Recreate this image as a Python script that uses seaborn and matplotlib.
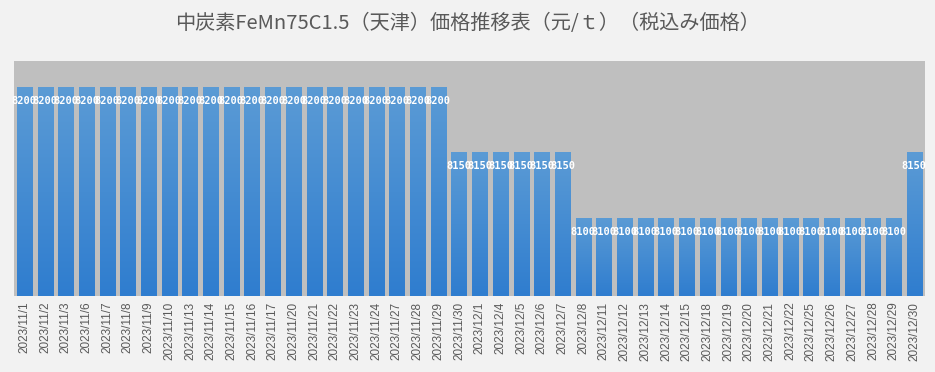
"""中炭素FeMn75C1.5（天津）価格推移表 — Excel風の棒グラフを再現。"""

import matplotlib

matplotlib.use("Agg")

import matplotlib.pyplot as plt
import numpy as np
import pandas as pd
import seaborn as sns
from matplotlib.colors import LinearSegmentedColormap

# ---------------------------------------------------------------------------
# データ
# ---------------------------------------------------------------------------
日付 = [
    "2023/11/1", "2023/11/2", "2023/11/3", "2023/11/6", "2023/11/7",
    "2023/11/8", "2023/11/9", "2023/11/10", "2023/11/13", "2023/11/14",
    "2023/11/15", "2023/11/16", "2023/11/17", "2023/11/20", "2023/11/21",
    "2023/11/22", "2023/11/23", "2023/11/24", "2023/11/27", "2023/11/28",
    "2023/11/29", "2023/11/30", "2023/12/1", "2023/12/4", "2023/12/5",
    "2023/12/6", "2023/12/7", "2023/12/8", "2023/12/11", "2023/12/12",
    "2023/12/13", "2023/12/14", "2023/12/15", "2023/12/18", "2023/12/19",
    "2023/12/20", "2023/12/21", "2023/12/22", "2023/12/25", "2023/12/26",
    "2023/12/27", "2023/12/28", "2023/12/29", "2023/12/30",
]
価格 = [8200] * 21 + [8150] * 6 + [8100] * 16 + [8150]

タイトル = "中炭素FeMn75C1.5（天津）価格推移表（元/ｔ）（税込み価格）"

sns.set_theme(style="white")
plt.rcParams["font.family"] = ["Noto Sans CJK JP", "DejaVu Sans"]

df = pd.DataFrame({"日付": 日付, "価格": 価格})

fig = plt.figure(figsize=(9.35, 3.72), dpi=100, facecolor="#F2F2F2")
ax = fig.add_axes([0.015, 0.204, 0.974, 0.632])
ax.set_facecolor("#BFBFBF")

sns.barplot(data=df, x="日付", y="価格", color="#5B9BD5", width=0.73,
            saturation=1, ax=ax)
ax.set_ylim(8040, 8220)
ax.set_xlim(-0.5, len(日付) - 0.5)

# 棒に縦方向のグラデーションを付ける
cmap = LinearSegmentedColormap.from_list("grad", ["#2F7DCF", "#5B9BD5"])
grad = np.linspace(0, 1, 256).reshape(-1, 1)
for bar in ax.patches:
    x0, w, h = bar.get_x(), bar.get_width(), bar.get_height()
    im = ax.imshow(grad, cmap=cmap, aspect="auto", origin="lower",
                   extent=(x0, x0 + w, 8040, h), zorder=bar.get_zorder())
    im.set_clip_path(bar)
    bar.set_alpha(0)

# データラベル（Excel同様に重なって表示される）
for i, v in enumerate(価格):
    ax.annotate(f"{v}", (i, v), xytext=(0, -10), textcoords="offset points",
                ha="center", va="center", color="white", fontsize=7.5,
                fontweight="bold", family="DejaVu Sans Mono", zorder=5)

for s in ax.spines.values():
    s.set_visible(False)
ax.set_yticks([])
ax.set_xlabel("")
ax.set_ylabel("")
ax.tick_params(axis="x", length=0, pad=4, labelsize=8.5, labelcolor="#595959",
               labelrotation=90)
for lbl in ax.get_xticklabels():
    lbl.set_family("Liberation Sans")

fig.suptitle(タイトル, y=0.965, fontsize=14.5, color="#595959")

fig.savefig("out.png", dpi=100, facecolor=fig.get_facecolor())
